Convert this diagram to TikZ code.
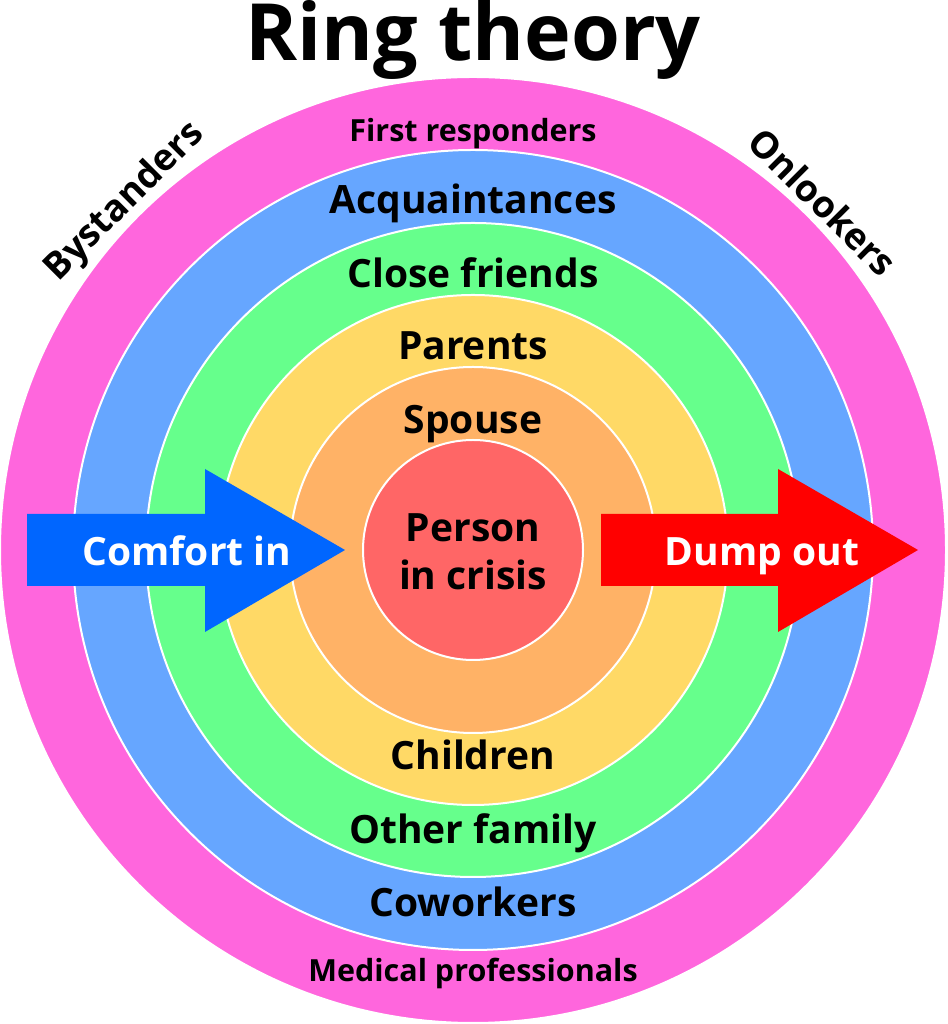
\documentclass[tikz,border=0pt]{standalone}
\usepackage{fontspec}
\setmainfont{Open Sans}
\usetikzlibrary{calc}
\definecolor{ringpink}{RGB}{255,102,221}
\definecolor{ringblue}{RGB}{102,166,255}
\definecolor{ringgreen}{RGB}{102,255,140}
\definecolor{ringyellow}{RGB}{255,217,102}
\definecolor{ringorange}{RGB}{255,178,102}
\definecolor{ringred}{RGB}{255,102,102}
\definecolor{inblue}{RGB}{0,102,255}
\definecolor{outred}{RGB}{255,0,0}
\begin{document}
\begin{tikzpicture}[x=1pt,y=1pt,
  ring/.style={draw=white,line width=2pt},
  biglabel/.style={font=\fontsize{39}{48}\selectfont\bfseries,anchor=base},
  smalllabel/.style={font=\fontsize{30.5}{34}\selectfont\bfseries,anchor=base},
  sidelabel/.style={font=\fontsize{37}{42}\selectfont\bfseries},
  arrowlabel/.style={biglabel,text=white}]
  \useasboundingbox (0,0) rectangle (947,1024);
  \coordinate (ctr) at (473,474);
  \foreach \r/\c in {473/ringpink,400/ringblue,327/ringgreen,255/ringyellow,183/ringorange,110/ringred}
    \draw[ring,fill=\c] (ctr) circle (\r pt);
  % arrows
  \fill[inblue] (27,510) -- (205,510) -- (205,555) -- (345,474) -- (205,392) -- (205,438) -- (27,438) -- cycle;
  \fill[outred] (601,510) -- (778,510) -- (778,555) -- (918,474) -- (778,392) -- (778,438) -- (601,438) -- cycle;
  % labels
  \node[font=\fontsize{79}{90}\selectfont\bfseries,anchor=base] (title) at (473,963) {Ring theory};
  \node[smalllabel] (first) at (473,882) {First responders};
  \node[biglabel] (acq) at (473,810) {Acquaintances};
  \node[biglabel] (close) at (473,736) {Close friends};
  \node[biglabel] (parents) at (473,664) {Parents};
  \node[biglabel] (spouse) at (473,590) {Spouse};
  \node[biglabel,anchor=center,align=center] (person) at ($(ctr)+(0,-2)$) {Person\\in crisis};
  \node[biglabel] (children) at (473,254) {Children};
  \node[biglabel] (family) at (473,180) {Other family};
  \node[biglabel] (cowork) at (473,107) {Coworkers};
  \node[smalllabel] (medical) at (473,42) {Medical professionals};
  \node[arrowlabel] (comfort) at (187,458) {Comfort in};
  \node[arrowlabel] (dump) at (762,458) {Dump out};
  \node[sidelabel,rotate=45] (by) at (125,822) {Bystanders};
  \node[sidelabel,rotate=-45] (on) at (823,822) {Onlookers};
\end{tikzpicture}
\end{document}
